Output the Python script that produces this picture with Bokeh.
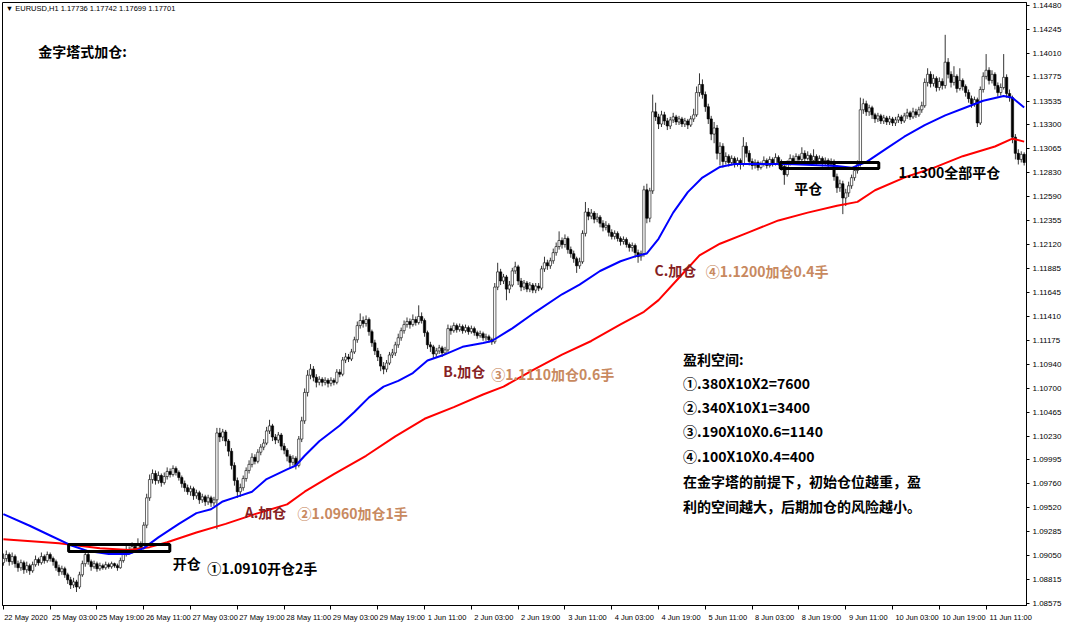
from bokeh.plotting import figure
from bokeh.models import (FixedTicker, LinearAxis, Label, PrintfTickFormatter,
                          Range1d, ColumnDataSource, Grid, AllLabels)
from bokeh.embed import file_html
from bokeh.resources import INLINE

# ---------------- data (EURUSD H1) ----------------
closes = [
    1.0902, 1.0906, 1.0899, 1.0904, 1.0897, 1.0893, 1.0898, 1.0891, 1.0895, 1.0890,
    1.0896, 1.0901, 1.0898, 1.0904, 1.0900, 1.0906, 1.0902, 1.0899, 1.0893, 1.0889,
    1.0892, 1.0886, 1.0881, 1.0876, 1.0879, 1.0874, 1.0886, 1.0897, 1.0906, 1.0899,
    1.0894, 1.0897, 1.0892, 1.0895, 1.0893, 1.0896, 1.0894, 1.0897, 1.0895, 1.0893,
    1.0900, 1.0906, 1.0911, 1.0909, 1.0914, 1.0912, 1.0916, 1.0913, 1.0935, 1.0962,
    1.0980, 1.0986, 1.0979, 1.0984, 1.0977, 1.0983, 1.0988, 1.0985, 1.0991, 1.0987,
    1.0982, 1.0976, 1.0972, 1.0968, 1.0971, 1.0964, 1.0967, 1.0960, 1.0963, 1.0958,
    1.0962, 1.0957, 1.0960, 1.1026, 1.1022, 1.1027, 1.1018, 1.1008, 1.0994, 1.0979,
    1.0968, 1.0972, 1.0981, 1.0989, 1.0995, 1.1002, 1.0998, 1.1007, 1.1012, 1.1016,
    1.1028, 1.1033, 1.1022, 1.1019, 1.1024, 1.1013, 1.1009, 1.1003, 1.0997, 1.1001,
    1.0994, 1.1020, 1.1038, 1.1066, 1.1083, 1.1089, 1.1081, 1.1076, 1.1079, 1.1076,
    1.1078, 1.1075, 1.1078, 1.1076, 1.1086, 1.1084, 1.1098, 1.1101, 1.1099, 1.1106,
    1.1118, 1.1132, 1.1137, 1.1134, 1.1138, 1.1126, 1.1115, 1.1107, 1.1101, 1.1092,
    1.1089, 1.1095, 1.1103, 1.1105, 1.1113, 1.1120, 1.1127, 1.1133, 1.1136, 1.1133,
    1.1138, 1.1135, 1.1141, 1.1137, 1.1125, 1.1113, 1.1111, 1.1104, 1.1107, 1.1110,
    1.1105, 1.1108, 1.1129, 1.1127, 1.1132, 1.1128, 1.1131, 1.1127, 1.1130, 1.1126,
    1.1129, 1.1125, 1.1122, 1.1124, 1.1120, 1.1121, 1.1118, 1.1116, 1.1170, 1.1185,
    1.1176, 1.1180, 1.1168, 1.1172, 1.1186, 1.1190, 1.1176, 1.1170, 1.1174, 1.1168,
    1.1172, 1.1167, 1.1171, 1.1169, 1.1188, 1.1194, 1.1191, 1.1196, 1.1204, 1.1210,
    1.1216, 1.1212, 1.1218, 1.1207, 1.1203, 1.1198, 1.1191, 1.1195, 1.1223, 1.1244,
    1.1240, 1.1243, 1.1237, 1.1239, 1.1233, 1.1229, 1.1231, 1.1224, 1.1220, 1.1223,
    1.1218, 1.1215, 1.1217, 1.1212, 1.1209, 1.1211, 1.1204, 1.1200, 1.1203, 1.1266,
    1.1238, 1.1265, 1.1343, 1.1338, 1.1331, 1.1340, 1.1334, 1.1329, 1.1335, 1.1338,
    1.1333, 1.1336, 1.1331, 1.1334, 1.1330, 1.1336, 1.1340, 1.1362, 1.1370, 1.1360,
    1.1348, 1.1336, 1.1321, 1.1327, 1.1302, 1.1309, 1.1294, 1.1299, 1.1293, 1.1297,
    1.1292, 1.1295, 1.1291, 1.1309, 1.1302, 1.1294, 1.1290, 1.1293, 1.1288, 1.1291,
    1.1295, 1.1290, 1.1296, 1.1292, 1.1298, 1.1293, 1.1289, 1.1281, 1.1292, 1.1297,
    1.1294, 1.1299, 1.1296, 1.1302, 1.1297, 1.1300, 1.1295, 1.1299, 1.1294, 1.1297,
    1.1292, 1.1295, 1.1291, 1.1294, 1.1279, 1.1268, 1.1272, 1.1258, 1.1263, 1.1270,
    1.1278, 1.1285, 1.1291, 1.1345, 1.1351, 1.1343, 1.1347, 1.1340, 1.1336, 1.1339,
    1.1334, 1.1337, 1.1333, 1.1336, 1.1332, 1.1335, 1.1338, 1.1334, 1.1339, 1.1342,
    1.1338, 1.1343, 1.1340, 1.1345, 1.1349, 1.1372, 1.1380, 1.1371, 1.1376, 1.1367,
    1.1373, 1.1369, 1.1392, 1.1380, 1.1372, 1.1378, 1.1366, 1.1374, 1.1368, 1.1362,
    1.1356, 1.1351, 1.1355, 1.1332, 1.1365, 1.1378, 1.1384, 1.1374, 1.1380, 1.1369,
    1.1362, 1.1367, 1.1377, 1.1361, 1.1357, 1.1318, 1.1302, 1.1296, 1.1301, 1.1293,
]
highs = [
    1.0907, 1.0910, 1.0908, 1.0908, 1.0906, 1.0900, 1.0901, 1.0900, 1.0899, 1.0897,
    1.0899, 1.0905, 1.0903, 1.0908, 1.0906, 1.0909, 1.0908, 1.0904, 1.0901, 1.0896,
    1.0895, 1.0894, 1.0888, 1.0884, 1.0883, 1.0881, 1.0889, 1.0900, 1.0910, 1.0908,
    1.0901, 1.0900, 1.0899, 1.0898, 1.0897, 1.0899, 1.0898, 1.0899, 1.0898, 1.0897,
    1.0903, 1.0909, 1.0915, 1.0914, 1.0918, 1.0917, 1.0922, 1.0919, 1.0938, 1.0966,
    1.0985, 1.0990, 1.0989, 1.0988, 1.0986, 1.0987, 1.0992, 1.0991, 1.0994, 1.0993,
    1.0989, 1.0984, 1.0979, 1.0975, 1.0974, 1.0973, 1.0970, 1.0969, 1.0966, 1.0965,
    1.0965, 1.0964, 1.0963, 1.1031, 1.1031, 1.1030, 1.1029, 1.1020, 1.1011, 1.0997,
    1.0982, 1.0976, 1.0984, 1.0992, 1.0999, 1.1006, 1.1005, 1.1010, 1.1015, 1.1020,
    1.1032, 1.1039, 1.1035, 1.1025, 1.1027, 1.1026, 1.1016, 1.1011, 1.1005, 1.1004,
    1.1003, 1.1023, 1.1042, 1.1070, 1.1088, 1.1094, 1.1092, 1.1084, 1.1082, 1.1081,
    1.1081, 1.1080, 1.1081, 1.1080, 1.1089, 1.1089, 1.1101, 1.1105, 1.1104, 1.1109,
    1.1121, 1.1136, 1.1144, 1.1141, 1.1142, 1.1140, 1.1128, 1.1118, 1.1110, 1.1104,
    1.1096, 1.1098, 1.1106, 1.1109, 1.1116, 1.1124, 1.1130, 1.1137, 1.1140, 1.1139,
    1.1143, 1.1141, 1.1152, 1.1145, 1.1139, 1.1127, 1.1116, 1.1113, 1.1110, 1.1113,
    1.1112, 1.1111, 1.1133, 1.1132, 1.1135, 1.1134, 1.1134, 1.1133, 1.1133, 1.1132,
    1.1132, 1.1131, 1.1127, 1.1127, 1.1126, 1.1124, 1.1123, 1.1120, 1.1174, 1.1194,
    1.1188, 1.1183, 1.1182, 1.1176, 1.1189, 1.1195, 1.1192, 1.1179, 1.1177, 1.1176,
    1.1175, 1.1174, 1.1174, 1.1174, 1.1191, 1.1200, 1.1197, 1.1199, 1.1208, 1.1214,
    1.1225, 1.1219, 1.1222, 1.1220, 1.1210, 1.1206, 1.1200, 1.1199, 1.1226, 1.1254,
    1.1248, 1.1247, 1.1245, 1.1243, 1.1241, 1.1236, 1.1235, 1.1233, 1.1227, 1.1226,
    1.1225, 1.1220, 1.1220, 1.1219, 1.1214, 1.1214, 1.1213, 1.1207, 1.1206, 1.1270,
    1.1272, 1.1268, 1.1360, 1.1352, 1.1341, 1.1344, 1.1343, 1.1337, 1.1338, 1.1342,
    1.1340, 1.1339, 1.1338, 1.1337, 1.1336, 1.1339, 1.1346, 1.1368, 1.1381, 1.1375,
    1.1363, 1.1351, 1.1339, 1.1333, 1.1330, 1.1313, 1.1312, 1.1303, 1.1301, 1.1300,
    1.1299, 1.1298, 1.1297, 1.1318, 1.1313, 1.1305, 1.1297, 1.1296, 1.1295, 1.1294,
    1.1299, 1.1297, 1.1299, 1.1298, 1.1302, 1.1300, 1.1296, 1.1291, 1.1295, 1.1301,
    1.1300, 1.1302, 1.1301, 1.1308, 1.1305, 1.1304, 1.1302, 1.1306, 1.1301, 1.1300,
    1.1299, 1.1298, 1.1297, 1.1297, 1.1296, 1.1282, 1.1276, 1.1275, 1.1267, 1.1274,
    1.1281, 1.1288, 1.1295, 1.1357, 1.1356, 1.1354, 1.1350, 1.1349, 1.1342, 1.1342,
    1.1341, 1.1340, 1.1339, 1.1339, 1.1338, 1.1338, 1.1341, 1.1340, 1.1342, 1.1346,
    1.1344, 1.1347, 1.1346, 1.1348, 1.1353, 1.1376, 1.1386, 1.1383, 1.1380, 1.1378,
    1.1377, 1.1376, 1.1419, 1.1396, 1.1383, 1.1388, 1.1380, 1.1386, 1.1376, 1.1370,
    1.1365, 1.1359, 1.1358, 1.1357, 1.1368, 1.1382, 1.1400, 1.1387, 1.1384, 1.1382,
    1.1372, 1.1371, 1.1400, 1.1380, 1.1365, 1.1359, 1.1321, 1.1306, 1.1304, 1.1303,
]
lows = [
    1.0895, 1.0899, 1.0895, 1.0896, 1.0893, 1.0889, 1.0890, 1.0887, 1.0888, 1.0886,
    1.0888, 1.0894, 1.0895, 1.0896, 1.0897, 1.0898, 1.0899, 1.0895, 1.0890, 1.0885,
    1.0886, 1.0883, 1.0877, 1.0872, 1.0873, 1.0869, 1.0872, 1.0884, 1.0894, 1.0896,
    1.0890, 1.0892, 1.0889, 1.0890, 1.0891, 1.0891, 1.0892, 1.0892, 1.0893, 1.0890,
    1.0892, 1.0898, 1.0904, 1.0906, 1.0907, 1.0909, 1.0910, 1.0910, 1.0911, 1.0932,
    1.0959, 1.0976, 1.0975, 1.0976, 1.0973, 1.0975, 1.0980, 1.0982, 1.0983, 1.0984,
    1.0979, 1.0972, 1.0968, 1.0965, 1.0964, 1.0960, 1.0961, 1.0956, 1.0957, 1.0954,
    1.0955, 1.0953, 1.0954, 1.0931, 1.1017, 1.1018, 1.1013, 1.1003, 1.0990, 1.0974,
    1.0962, 1.0963, 1.0969, 1.0978, 1.0986, 1.0992, 1.0995, 1.0996, 1.1004, 1.1009,
    1.1014, 1.1025, 1.1018, 1.1015, 1.1016, 1.1009, 1.1005, 1.0998, 1.0991, 1.0994,
    1.0990, 1.0992, 1.1017, 1.1035, 1.1062, 1.1079, 1.1077, 1.1071, 1.1073, 1.1072,
    1.1073, 1.1071, 1.1072, 1.1073, 1.1074, 1.1081, 1.1082, 1.1095, 1.1096, 1.1097,
    1.1104, 1.1115, 1.1129, 1.1130, 1.1131, 1.1122, 1.1111, 1.1103, 1.1097, 1.1087,
    1.1084, 1.1086, 1.1093, 1.1100, 1.1102, 1.1110, 1.1117, 1.1124, 1.1130, 1.1129,
    1.1131, 1.1132, 1.1133, 1.1134, 1.1121, 1.1109, 1.1106, 1.1099, 1.1101, 1.1104,
    1.1101, 1.1103, 1.1106, 1.1123, 1.1125, 1.1125, 1.1126, 1.1124, 1.1125, 1.1123,
    1.1124, 1.1122, 1.1119, 1.1120, 1.1117, 1.1117, 1.1115, 1.1113, 1.1114, 1.1167,
    1.1172, 1.1173, 1.1157, 1.1164, 1.1170, 1.1183, 1.1172, 1.1166, 1.1167, 1.1165,
    1.1165, 1.1164, 1.1164, 1.1166, 1.1167, 1.1185, 1.1187, 1.1188, 1.1193, 1.1201,
    1.1207, 1.1208, 1.1209, 1.1203, 1.1199, 1.1194, 1.1184, 1.1188, 1.1193, 1.1220,
    1.1236, 1.1237, 1.1233, 1.1234, 1.1229, 1.1225, 1.1226, 1.1220, 1.1217, 1.1217,
    1.1215, 1.1211, 1.1212, 1.1209, 1.1205, 1.1205, 1.1199, 1.1194, 1.1196, 1.1200,
    1.1233, 1.1234, 1.1262, 1.1334, 1.1326, 1.1328, 1.1330, 1.1325, 1.1326, 1.1332,
    1.1330, 1.1330, 1.1328, 1.1328, 1.1326, 1.1328, 1.1333, 1.1338, 1.1358, 1.1356,
    1.1343, 1.1331, 1.1315, 1.1312, 1.1296, 1.1290, 1.1288, 1.1291, 1.1289, 1.1290,
    1.1288, 1.1289, 1.1286, 1.1289, 1.1298, 1.1290, 1.1286, 1.1287, 1.1285, 1.1286,
    1.1289, 1.1287, 1.1288, 1.1289, 1.1290, 1.1290, 1.1285, 1.1271, 1.1279, 1.1290,
    1.1291, 1.1292, 1.1293, 1.1294, 1.1294, 1.1295, 1.1292, 1.1293, 1.1291, 1.1292,
    1.1289, 1.1290, 1.1288, 1.1289, 1.1275, 1.1263, 1.1264, 1.1242, 1.1250, 1.1259,
    1.1267, 1.1275, 1.1282, 1.1289, 1.1341, 1.1339, 1.1339, 1.1336, 1.1332, 1.1333,
    1.1331, 1.1331, 1.1330, 1.1330, 1.1329, 1.1329, 1.1332, 1.1331, 1.1332, 1.1336,
    1.1335, 1.1336, 1.1337, 1.1338, 1.1342, 1.1347, 1.1368, 1.1367, 1.1368, 1.1363,
    1.1364, 1.1365, 1.1366, 1.1376, 1.1367, 1.1369, 1.1362, 1.1364, 1.1364, 1.1358,
    1.1352, 1.1347, 1.1348, 1.1328, 1.1330, 1.1362, 1.1375, 1.1370, 1.1371, 1.1365,
    1.1358, 1.1359, 1.1365, 1.1357, 1.1353, 1.1312, 1.1296, 1.1291, 1.1293, 1.1290,
]
first_open = 1.0898
opens = [first_open] + closes[:-1]   # each hourly bar opens at the previous close

# moving averages (blue = fast, red = slow), read at bar positions
ma_fast_bar = [0, 9, 16, 23, 29, 36, 43, 48, 53, 60, 66, 71, 75, 80, 85, 90, 97, 100, 103,
               108, 115, 120, 125, 130, 135, 140, 145, 150, 157, 164, 167, 174, 182, 191,
               197, 204, 211, 216, 220, 224, 229, 234, 239, 245, 250, 268, 285, 290, 295,
               302, 308, 315, 322, 329, 335, 342, 345, 349]
ma_fast_val = [1.09459, 1.09344, 1.09248, 1.09152, 1.09094, 1.09066, 1.09066, 1.09123,
               1.09229, 1.09363, 1.09469, 1.09507, 1.09584, 1.09632, 1.09680, 1.09805,
               1.09901, 1.09939, 1.10035, 1.10179, 1.10333, 1.10467, 1.10611, 1.10717,
               1.10774, 1.10851, 1.10976, 1.11024, 1.11110, 1.11149, 1.11168, 1.11293,
               1.11456, 1.11629, 1.11725, 1.11859, 1.11955, 1.12003, 1.12032, 1.12176,
               1.12435, 1.12637, 1.12781, 1.12886, 1.12915, 1.12915, 1.12896, 1.12877,
               1.12934, 1.13069, 1.13184, 1.13299, 1.13395, 1.13472, 1.13539, 1.13587,
               1.13568, 1.13472]
ma_slow_bar = [0, 19, 33, 43, 50, 56, 66, 76, 86, 97, 103, 113, 124, 134, 144, 154, 164,
               171, 181, 191, 201, 211, 219, 224, 231, 238, 245, 255, 265, 275, 285, 292,
               298, 308, 318, 328, 339, 345, 349]
ma_slow_val = [1.09210, 1.09171, 1.09123, 1.09104, 1.09133, 1.09181, 1.09277, 1.09363,
               1.09459, 1.09555, 1.09680, 1.09853, 1.10035, 1.10227, 1.10400, 1.10515,
               1.10640, 1.10717, 1.10880, 1.11034, 1.11168, 1.11331, 1.11456, 1.11571,
               1.11792, 1.12013, 1.12128, 1.12243, 1.12358, 1.12435, 1.12502, 1.12541,
               1.12656, 1.12781, 1.12877, 1.12992, 1.13088, 1.13165, 1.13136]

price_ticks = [1.14480, 1.14245, 1.14010, 1.13775, 1.13535, 1.13300, 1.13065, 1.12830,
               1.12590, 1.12355, 1.12120, 1.11885, 1.11645, 1.11410, 1.11175, 1.10940,
               1.10700, 1.10465, 1.10230, 1.09995, 1.09760, 1.09520, 1.09285, 1.09050,
               1.08815, 1.08575]
date_tick_bars = [0, 16, 32, 48, 64, 80, 96, 112, 128, 144, 160, 176, 192, 208, 224, 240,
                  256, 272, 288, 304, 320, 336]
date_tick_labels = ["22 May 2020", "25 May 03:00", "25 May 19:00", "26 May 11:00",
                    "27 May 03:00", "27 May 19:00", "28 May 11:00", "29 May 03:00",
                    "29 May 19:00", "1 Jun 11:00", "2 Jun 03:00", "2 Jun 19:00",
                    "3 Jun 11:00", "4 Jun 03:00", "4 Jun 19:00", "5 Jun 11:00",
                    "8 Jun 03:00", "8 Jun 19:00", "9 Jun 11:00", "10 Jun 03:00",
                    "10 Jun 19:00", "11 Jun 11:00"]

# marked zones: opening and closing boxes (bar from, bar to, price low, price high)
open_zone = [22.3, 56.9, 1.0909, 1.0916]
close_zone = [265.6, 299.3, 1.1287, 1.1293]

# ---------------- figure ----------------
n = len(closes)
bars = list(range(n))
p = figure(width=1064, height=624, output_backend="svg", toolbar_location=None,
           x_range=Range1d(-0.3, 349.8), y_range=Range1d(1.08557, 1.14509),
           x_axis_location=None, y_axis_location=None,
           min_border_left=2, min_border_top=2, min_border_right=0, min_border_bottom=0,
           background_fill_color="white", border_fill_color="white",
           outline_line_color="black", outline_line_width=1)
for g in p.select(type=Grid):
    g.visible = False

yaxis = LinearAxis(ticker=FixedTicker(ticks=price_ticks),
                   formatter=PrintfTickFormatter(format="%.5f"),
                   major_tick_in=0, major_tick_out=3, minor_tick_out=0, minor_tick_in=0,
                   major_label_standoff=3, major_label_text_font="Liberation Sans",
                   major_label_text_font_size="8px", major_label_text_color="black",
                   axis_line_color="black", major_tick_line_color="black",
                   major_label_policy=AllLabels())
p.add_layout(yaxis, "right")

label_pos = [round(b + 0.7 + 0.64 * len(t), 1) for b, t in zip(date_tick_bars, date_tick_labels)]
xaxis = LinearAxis(ticker=FixedTicker(ticks=label_pos, minor_ticks=date_tick_bars),
                   major_label_overrides={pos: t for pos, t in zip(label_pos, date_tick_labels)},
                   major_tick_in=0, major_tick_out=0, minor_tick_in=0, minor_tick_out=4,
                   minor_tick_line_color="black", major_label_standoff=3,
                   major_label_text_font="Liberation Sans", major_label_text_font_size="7.5px",
                   major_label_text_color="black", axis_line_color="black",
                   major_label_policy=AllLabels())
p.add_layout(xaxis, "below")

# wicks
p.segment(x0=bars, y0=lows, x1=bars, y1=highs, line_color="black", line_width=0.8)

up_i = [i for i in bars if closes[i] >= opens[i]]
dn_i = [i for i in bars if closes[i] < opens[i]]
up_src = ColumnDataSource(dict(x=up_i, top=[closes[i] for i in up_i], bottom=[opens[i] for i in up_i]))
dn_src = ColumnDataSource(dict(x=dn_i, top=[opens[i] for i in dn_i], bottom=[closes[i] for i in dn_i]))
p.vbar(x="x", top="top", bottom="bottom", width=0.8, source=up_src,
       fill_color="white", line_color="black", line_width=0.6)
p.vbar(x="x", top="top", bottom="bottom", width=0.8, source=dn_src,
       fill_color="black", line_color="black", line_width=0.6)

# moving averages
p.line(ma_slow_bar, ma_slow_val, line_color="#ff0000", line_width=2, line_join="round")
p.line(ma_fast_bar, ma_fast_val, line_color="#0000ff", line_width=2, line_join="round")

# boxes
for z in (open_zone, close_zone):
    p.quad(left=[z[0]], right=[z[1]], bottom=[z[2]], top=[z[3]],
           fill_color=None, line_color="black", line_width=3)

# ---------------- texts ----------------
CJK = "Noto Sans CJK SC"
MAROON = "#861f24"
TAN = "#c8895f"


def add_text(x, y, text, color="black", size="14px", font=CJK, bold=True):
    p.add_layout(Label(x=x, y=y, text=text, text_color=color, text_font=font,
                       text_font_size=size, text_font_style="bold" if bold else "normal",
                       text_baseline="middle", text_align="left"))


add_text(0.8, 1.14451, "\u25bc EURUSD,H1  1.17736 1.17742 1.17699 1.17701",
         size="7.5px", font="Liberation Sans", bold=False)
add_text(11.9, 1.14029, "金字塔式加仓:")
add_text(57.9, 1.08979, "开仓")
add_text(69.7, 1.08931, "①1.0910开仓2手")
add_text(82.5, 1.09478, "A.加仓", color=MAROON)
add_text(100.6, 1.09469, "②1.0960加仓1手", color=TAN)
add_text(150.4, 1.10870, "B.加仓", color=MAROON)
add_text(166.8, 1.10842, "③1.1110加仓0.6手", color=TAN)
add_text(222.6, 1.11869, "C.加仓", color=MAROON)
add_text(240.1, 1.11859, "④1.1200加仓0.4手", color=TAN)
add_text(270.4, 1.12675, "平仓")
add_text(306.0, 1.12838, "1.1300全部平仓")

profit_lines = ["盈利空间:", "①.380X10X2=7600", "②.340X10X1=3400", "③.190X10X0.6=1140",
                "④.100X10X0.4=400", "在金字塔的前提下，初始仓位越重，盈",
                "利的空间越大，后期加仓的风险越小。"]
profit_y = [1.10995, 1.10755, 1.10515, 1.10275, 1.10035, 1.09786, 1.09536]
for t, yv in zip(profit_lines, profit_y):
    add_text(232.4, yv, t)

open("out.html", "w").write(file_html(p, INLINE))
